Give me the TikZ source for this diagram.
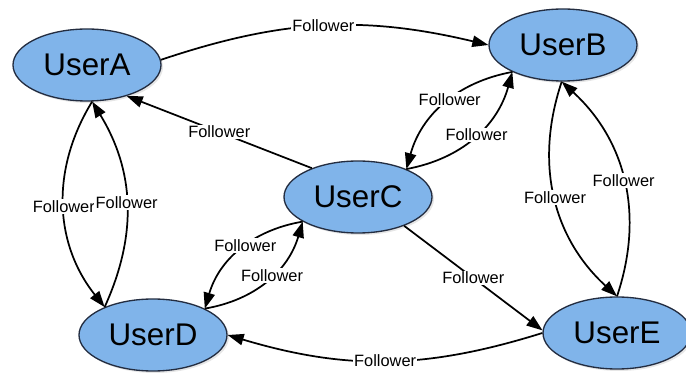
\documentclass[tikz,border=0pt]{standalone}
\usepackage{fontspec}
\setmainfont{Liberation Sans}
\usetikzlibrary{arrows.meta,shapes.geometric,shadows}
\definecolor{userfill}{RGB}{128,180,234}
\definecolor{userline}{RGB}{35,45,65}
\begin{document}
\begin{tikzpicture}[x=0.75pt,y=0.75pt,
  user/.style={ellipse, draw=userline, line width=1pt, fill=userfill,
    minimum width=111pt, minimum height=54pt, inner sep=0pt,
    drop shadow={opacity=0.2, shadow xshift=1.5pt, shadow yshift=-1.5pt},
    font=\fontsize{23.5}{26}\selectfont},
  lab/.style={fill=white, inner sep=1pt, font=\fontsize{12.3}{13}\selectfont},
  edge/.style={line width=1.3pt, -{Triangle[length=12pt,width=8.5pt]}}]
\useasboundingbox (0,0) rectangle (686,375);
\node[user] (A) at (87,310) {UserA};
\node[user] (B) at (563,330) {UserB};
\node[user] (C) at (358,178) {UserC};
\node[user] (D) at (153,40) {UserD};
\node[user] (E) at (617,42) {UserE};
% A -> B
\draw[edge] (A.4) to[bend left=16] node[lab] {Follower} (B.180);
% C -> A
\draw[edge] (C.148) -- node[lab] {Follower} (A.-38);
% B <-> C
\draw[edge] (B.208) to[bend right=32] node[lab, pos=0.45] {Follower} (C.30);
\draw[edge] (C.30) to[bend right=32] node[lab, pos=0.52] {Follower} (B.208);
% C <-> D
\draw[edge] (C.204) to[bend right=32] node[lab, pos=0.45] {Follower} (D.27);
\draw[edge] (D.27) to[bend right=32] node[lab, pos=0.55] {Follower} (C.204);
% A <-> D
\draw[edge] (A.278) to[bend right=35] node[lab] {Follower} (D.150);
\draw[edge] (D.150) to[bend right=28] node[lab] {Follower} (A.278);
% B <-> E
\draw[edge] (B.268) to[bend right=33] node[lab] {Follower} (E.90);
\draw[edge] (E.90) to[bend right=33] node[lab] {Follower} (B.268);
% C -> E
\draw[edge] (C.-32) -- node[lab] {Follower} (E.178);
% E -> D
\draw[edge] (E.180) to[bend left=17] node[lab] {Follower} (D.0);
\end{tikzpicture}
\end{document}
